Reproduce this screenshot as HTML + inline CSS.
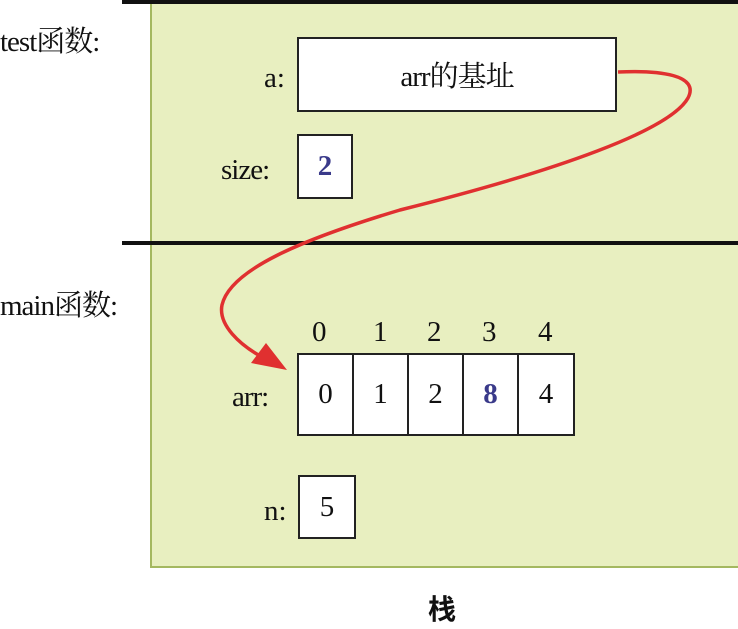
<!DOCTYPE html>
<html><head><meta charset="utf-8"><style>
body{margin:0;width:738px;height:629px;background:#fff;position:relative;overflow:hidden;font-family:"Liberation Serif","Noto Serif CJK SC",serif;color:#111}
.a{position:absolute}
.box{position:absolute;background:#fff;border:2px solid #222;box-sizing:border-box;display:flex;align-items:center;justify-content:center;font-size:29px}
.lbl{position:absolute;font-size:29px;line-height:1}
</style></head><body>
<div class="a" style="left:150px;top:2px;width:600px;height:566px;background:#e8efc0;border-left:2px solid #a4b860;border-bottom:2px solid #a4b860;box-sizing:border-box"></div>
<div class="a" style="left:122px;top:0;width:616px;height:4px;background:#111"></div>
<div class="a" style="left:122px;top:241px;width:616px;height:4px;background:#111"></div>
<div class="lbl" style="left:0;top:28px;letter-spacing:-1px">test函数:</div>
<div class="lbl" style="left:0;top:292px;letter-spacing:-1px">main函数:</div>
<div class="lbl" style="left:264px;top:64px">a:</div>
<div class="box" style="left:297px;top:37px;width:320px;height:75px;letter-spacing:-1px">arr的基址</div>
<div class="lbl" style="left:221px;top:156px;letter-spacing:-1px">size:</div>
<div class="box" style="left:297px;top:134px;width:56px;height:65px;color:#3a3a8a;font-weight:bold">2</div>
<div class="lbl" style="left:232px;top:383px;letter-spacing:-1px">arr:</div>
<div class="lbl" style="left:312px;top:318px">0</div>
<div class="lbl" style="left:373px;top:318px">1</div>
<div class="lbl" style="left:427px;top:318px">2</div>
<div class="lbl" style="left:482px;top:318px">3</div>
<div class="lbl" style="left:538px;top:318px">4</div>
<div class="box" style="left:297px;top:353px;width:57px;height:83px">0</div>
<div class="box" style="left:352px;top:353px;width:57px;height:83px">1</div>
<div class="box" style="left:407px;top:353px;width:57px;height:83px">2</div>
<div class="box" style="left:462px;top:353px;width:57px;height:83px;color:#3a3a8a;font-weight:bold">8</div>
<div class="box" style="left:517px;top:353px;width:58px;height:83px">4</div>
<div class="lbl" style="left:264px;top:497px">n:</div>
<div class="box" style="left:298px;top:475px;width:58px;height:64px">5</div>
<div class="a" style="left:428px;top:588px;font-size:28px;font-weight:bold;font-family:'Noto Sans CJK SC',sans-serif">栈</div>
<svg class="a" style="left:0;top:0" width="738" height="629">
<path d="M618,72 C660,70 700,75 688,98 C670,130 560,170 400,210 C300,240 230,270 222,305 C218,325 240,345 262,357" fill="none" stroke="#e03030" stroke-width="3.5"/>
<polygon points="287,370 251,363 266,343" fill="#e03030"/>
</svg>
</body></html>
